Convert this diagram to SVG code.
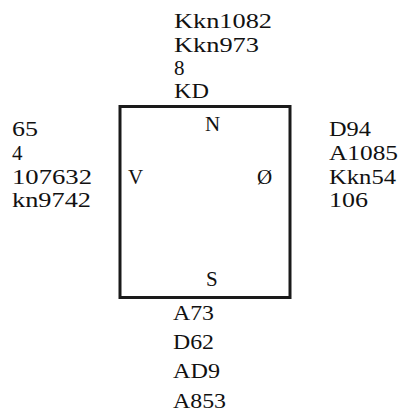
<svg xmlns="http://www.w3.org/2000/svg" width="401" height="419" viewBox="0 0 401 419">
<style>
text{font-family:'Liberation Serif','Times New Roman','DejaVu Serif',serif;font-size:21px;fill:#111}
.box{fill:none;stroke:#1a1a1a;stroke-width:3}
</style>
<rect width="401" height="419" fill="#fff"/>
<g id="center">
<rect class="box" x="120" y="106.5" width="170" height="191"/>
<text x="205" y="131">N</text>
<text x="128" y="184">V</text>
<text x="257" y="184">Ø</text>
<text x="206" y="286">S</text>
</g>
<g id="north">
<text x="174" y="28" textLength="98" lengthAdjust="spacingAndGlyphs">Kkn1082</text>
<text x="174" y="52" textLength="85" lengthAdjust="spacingAndGlyphs">Kkn973</text>
<text x="174" y="75">8</text>
<text x="174" y="98" textLength="35" lengthAdjust="spacingAndGlyphs">KD</text>
</g>
<g id="west">
<text x="12" y="136" textLength="26" lengthAdjust="spacingAndGlyphs">65</text>
<text x="12" y="160">4</text>
<text x="12" y="184" textLength="80" lengthAdjust="spacingAndGlyphs">107632</text>
<text x="12" y="207" textLength="79" lengthAdjust="spacingAndGlyphs">kn9742</text>
</g>
<g id="east">
<text x="329" y="136" textLength="42" lengthAdjust="spacingAndGlyphs">D94</text>
<text x="329" y="160" textLength="69" lengthAdjust="spacingAndGlyphs">A1085</text>
<text x="329" y="184" textLength="67" lengthAdjust="spacingAndGlyphs">Kkn54</text>
<text x="329" y="207" textLength="39" lengthAdjust="spacingAndGlyphs">106</text>
</g>
<g id="south">
<text x="173" y="320" textLength="41" lengthAdjust="spacingAndGlyphs">A73</text>
<text x="173" y="349" textLength="41" lengthAdjust="spacingAndGlyphs">D62</text>
<text x="173" y="378" textLength="47" lengthAdjust="spacingAndGlyphs">AD9</text>
<text x="173" y="408" textLength="53" lengthAdjust="spacingAndGlyphs">A853</text>
</g>
<g id="connectors"></g>
</svg>
